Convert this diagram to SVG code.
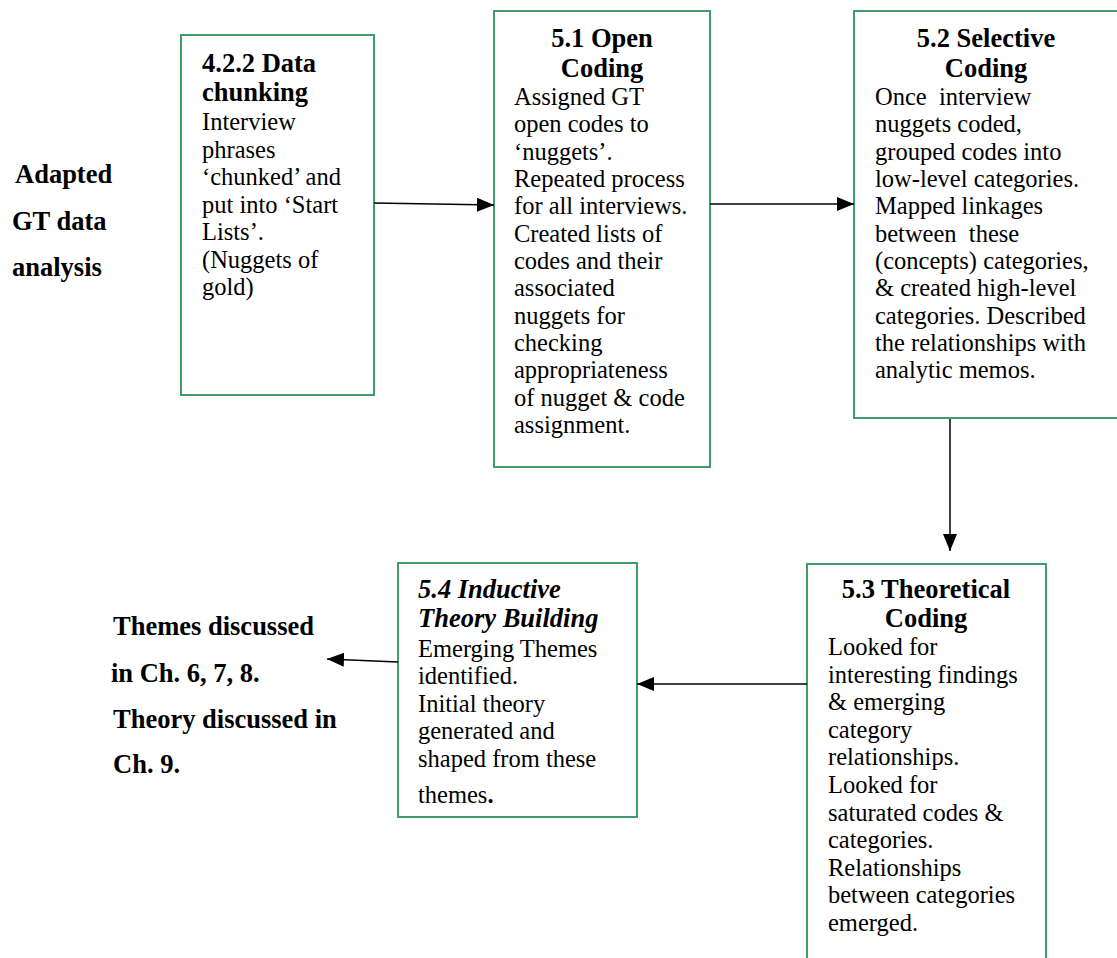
<svg xmlns="http://www.w3.org/2000/svg" width="1117" height="958" viewBox="0 0 1117 958">
  <style>
    .box { fill: #ffffff; stroke: #3f9c6b; stroke-width: 2; }
    .head { font-family: "Liberation Serif", "Times New Roman", serif; font-size: 26.5px; font-weight: bold; fill: #000; }
    .headc { text-anchor: middle; }
    .headi { font-style: italic; }
    .body { font-family: "Liberation Serif", "Times New Roman", serif; font-size: 24.5px; fill: #000; }
    .label { font-family: "Liberation Serif", "Times New Roman", serif; font-size: 26.5px; font-weight: bold; fill: #000; }
    .edge { fill: none; stroke: #000; stroke-width: 1.5; }
  </style>
  <defs>
    <marker id="arrow" markerUnits="userSpaceOnUse" markerWidth="18" markerHeight="14" refX="17" refY="7" orient="auto">
      <path d="M0,0 L17,7 L0,14 Z" fill="#000"/>
    </marker>
  </defs>
  <rect width="1117" height="958" fill="#ffffff"/>

  <!-- side label -->
  <g id="label-adapted" class="label">
    <text x="15" y="183">Adapted</text>
    <text x="12" y="230">GT data</text>
    <text x="12" y="276">analysis</text>
  </g>

  <!-- outcome label -->
  <g id="label-themes" class="label">
    <text x="113" y="635">Themes discussed</text>
    <text x="111" y="682">in Ch. 6, 7, 8.</text>
    <text x="113" y="728">Theory discussed in</text>
    <text x="113" y="773">Ch. 9.</text>
  </g>

  <!-- 4.2.2 Data chunking -->
  <g id="node-chunking">
    <rect class="box" x="181" y="35" width="193" height="360"/>
    <text class="head" x="202" y="72">4.2.2 Data</text>
    <text class="head" x="202" y="101">chunking</text>
    <g class="body">
      <text x="202" y="130">Interview</text>
      <text x="202" y="157.5">phrases</text>
      <text x="202" y="185">‘chunked’ and</text>
      <text x="202" y="212.5">put into ‘Start</text>
      <text x="202" y="240">Lists’.</text>
      <text x="202" y="267.5">(Nuggets of</text>
      <text x="202" y="295">gold)</text>
    </g>
  </g>

  <!-- 5.1 Open Coding -->
  <g id="node-open">
    <rect class="box" x="494" y="11" width="216" height="456"/>
    <text class="head headc" x="602" y="47">5.1 Open</text>
    <text class="head headc" x="602" y="77">Coding</text>
    <g class="body">
      <text x="514" y="105">Assigned GT</text>
      <text x="514" y="132.3">open codes to</text>
      <text x="514" y="159.7">‘nuggets’.</text>
      <text x="514" y="187">Repeated process</text>
      <text x="514" y="214.3">for all interviews.</text>
      <text x="514" y="241.7">Created lists of</text>
      <text x="514" y="269">codes and their</text>
      <text x="514" y="296.3">associated</text>
      <text x="514" y="323.7">nuggets for</text>
      <text x="514" y="351">checking</text>
      <text x="514" y="378.3">appropriateness</text>
      <text x="514" y="405.7">of nugget &amp; code</text>
      <text x="514" y="433">assignment.</text>
    </g>
  </g>

  <!-- 5.2 Selective Coding (runs past the right edge) -->
  <g id="node-selective">
    <path class="box" d="M1118,11 H854 V418 H1118"/>
    <text class="head headc" x="986" y="47">5.2 Selective</text>
    <text class="head headc" x="986" y="77">Coding</text>
    <g class="body">
      <text x="875" y="105" xml:space="preserve">Once  interview</text>
      <text x="875" y="132.3">nuggets coded,</text>
      <text x="875" y="159.7">grouped codes into</text>
      <text x="875" y="187">low-level categories.</text>
      <text x="875" y="214.3">Mapped linkages</text>
      <text x="875" y="241.7" xml:space="preserve">between  these</text>
      <text x="875" y="269">(concepts) categories,</text>
      <text x="875" y="296.3">&amp; created high-level</text>
      <text x="875" y="323.7">categories. Described</text>
      <text x="875" y="351">the relationships with</text>
      <text x="875" y="378.3">analytic memos.</text>
    </g>
  </g>

  <!-- 5.3 Theoretical Coding (open at the bottom) -->
  <g id="node-theoretical">
    <path class="box" d="M807,960 V564 H1046 V960"/>
    <text class="head headc" x="926" y="598">5.3 Theoretical</text>
    <text class="head headc" x="926" y="627">Coding</text>
    <g class="body">
      <text x="828" y="655">Looked for</text>
      <text x="828" y="682.6">interesting findings</text>
      <text x="828" y="710.2">&amp; emerging</text>
      <text x="828" y="737.8">category</text>
      <text x="828" y="765.4">relationships.</text>
      <text x="828" y="793">Looked for</text>
      <text x="828" y="820.6">saturated codes &amp;</text>
      <text x="828" y="848.2">categories.</text>
      <text x="828" y="875.8">Relationships</text>
      <text x="828" y="903.4">between categories</text>
      <text x="828" y="931">emerged.</text>
    </g>
  </g>

  <!-- 5.4 Inductive Theory Building -->
  <g id="node-inductive">
    <rect class="box" x="398" y="563" width="239" height="254"/>
    <text class="head headi" x="418" y="598">5.4 Inductive</text>
    <text class="head headi" x="418" y="627">Theory Building</text>
    <g class="body">
      <text x="418" y="657">Emerging Themes</text>
      <text x="418" y="684">identified.</text>
      <text x="418" y="712">Initial theory</text>
      <text x="418" y="739">generated and</text>
      <text x="418" y="767">shaped from these</text>
      <text x="418" y="803">themes<tspan font-weight="bold">.</tspan></text>
    </g>
  </g>

  <!-- connectors -->
  <g id="connectors">
    <line class="edge" x1="374" y1="203" x2="494" y2="205" marker-end="url(#arrow)"/>
    <line class="edge" x1="710" y1="204" x2="854" y2="204" marker-end="url(#arrow)"/>
    <line class="edge" x1="950" y1="419" x2="950" y2="551" marker-end="url(#arrow)"/>
    <line class="edge" x1="807" y1="684" x2="637" y2="684" marker-end="url(#arrow)"/>
    <line class="edge" x1="398" y1="662" x2="327" y2="659" marker-end="url(#arrow)"/>
  </g>
</svg>
